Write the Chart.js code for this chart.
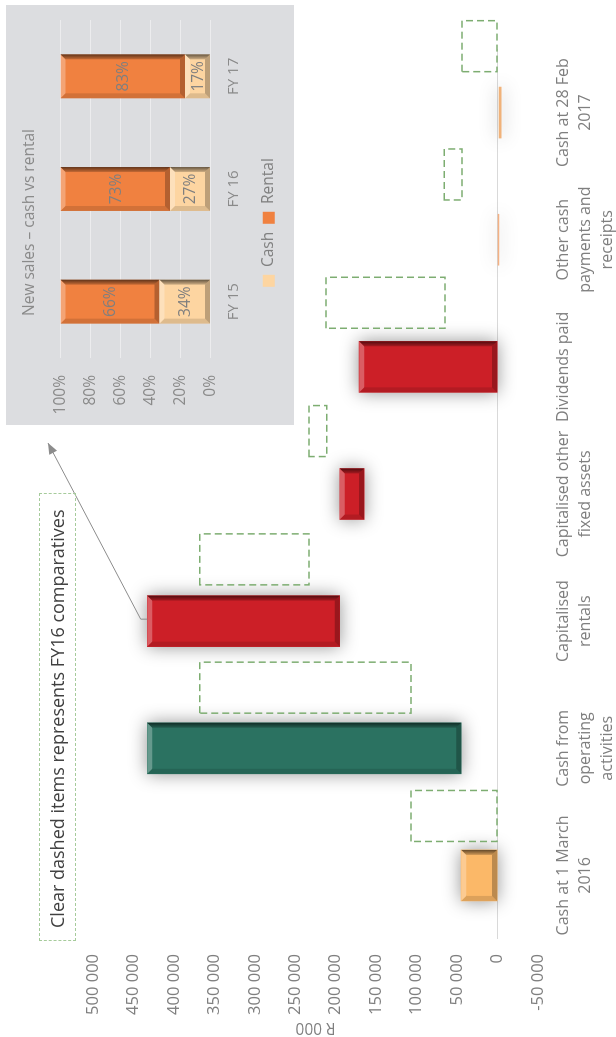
<!DOCTYPE html>
<html><head><meta charset="utf-8">
<script src="https://cdn.jsdelivr.net/npm/chart.js@4.4.1/dist/chart.umd.min.js"></script>
<style>
html,body{margin:0;padding:0;background:#fff;width:616px;height:1037px;overflow:hidden}
#rot{position:absolute;left:0;top:0;width:1037px;height:616px;transform-origin:0 0;transform:translate(0,1037px) rotate(-90deg);}
#main{position:absolute;left:0;top:0;}
#inset{position:absolute;left:612px;top:6px;background:#dcdde0;}
#note{position:absolute;left:96px;top:39px;width:448px;height:37px;box-sizing:border-box;border:1px dashed #a6cb9b;font:18px 'Open Sans',sans-serif;color:#404040;line-height:35px;padding-left:12px;white-space:nowrap}
</style></head><body>
<div id="rot">
  <canvas id="main" width="1037" height="616"></canvas>
  <canvas id="inset" width="420" height="288"></canvas>
  <div id="note">Clear dashed items represents FY16 comparatives</div>
</div>
<script>
// ---------- data ----------
const categories = [
  ['Cash at 1 March', '2016'],
  ['Cash from', 'operating', 'activities'],
  ['Capitalised', 'rentals'],
  ['Capitalised other', 'fixed assets'],
  ['Dividends paid'],
  ['Other cash', 'payments and', 'receipts'],
  ['Cash at 28 Feb', '2017']
];
const fy17Low  = [0, 45000, 195000, 165000, 0, -700, -2000];
const fy17High = [45000, 433000, 433000, 195000, 171000, -1800, -4500];
const fy17Colors = ['#fbb868', '#2b7261', '#cc1f27', '#cc1f27', '#cc1f27', '#f4b183', '#f0b27a'];
const fy16Low  = [0, 107000, 233000, 211000, 65000, 44000, 0];
const fy16High = [107000, 368000, 368000, 233000, 212000, 66000, 44000];
const valueMin = -50000, valueMax = 500000, valueStep = 50000;

const insetYears = ['FY 15', 'FY 16', 'FY 17'];
const cashShare = [34, 27, 17];
const rentalShare = [66, 73, 83];

// ---------- helpers ----------
Chart.defaults.font.family = "'Open Sans', sans-serif";
Chart.defaults.font.size = 15;
const fmt = v => (v < 0 ? '-' : '') + Math.abs(v).toString().replace(/\B(?=(\d{3})+(?!\d))/g, ' ');

function poly(ctx, pts, fill) {
  ctx.beginPath();
  ctx.moveTo(pts[0][0], pts[0][1]);
  for (let i = 1; i < pts.length; i++) ctx.lineTo(pts[i][0], pts[i][1]);
  ctx.closePath();
  ctx.fillStyle = fill;
  ctx.fill();
}

const bevelPlugin = {
  id: 'bevel',
  beforeDatasetDraw(chart, args) {
    const ds = chart.data.datasets[args.index];
    if (!ds.bevel) return;
    const ctx = chart.ctx;
    ctx.save();
    if (ds.shadow) { ctx.shadowColor = 'rgba(0,0,0,0.42)'; ctx.shadowBlur = 18; }
  },
  afterDatasetDraw(chart, args) {
    const ds = chart.data.datasets[args.index];
    if (!ds.bevel) return;
    const ctx = chart.ctx;
    ctx.restore();
    args.meta.data.forEach(el => {
      const {x, y, base, width} = el.getProps(['x', 'y', 'base', 'width'], true);
      const x0 = x - width / 2, x1 = x + width / 2;
      const y0 = Math.min(y, base), y1 = Math.max(y, base);
      const w = x1 - x0, h = y1 - y0;
      if (w < 8 || h < 8) return;
      const b = Math.min(5, w / 4, h / 4);
      ctx.save();
      poly(ctx, [[x0, y0], [x1, y0], [x1 - b, y0 + b], [x0 + b, y0 + b]], 'rgba(255,255,255,0.28)');
      poly(ctx, [[x0, y0], [x0 + b, y0 + b], [x0 + b, y1 - b], [x0, y1]], 'rgba(0,0,0,0.12)');
      const g = ctx.createLinearGradient(x1, 0, x1 - b, 0);
      g.addColorStop(0, 'rgba(0,0,0,0.6)');
      g.addColorStop(1, 'rgba(0,0,0,0.18)');
      poly(ctx, [[x1, y0], [x1, y1], [x1 - b, y1 - b], [x1 - b, y0 + b]], g);
      poly(ctx, [[x0, y1], [x1, y1], [x1 - b, y1 - b], [x0 + b, y1 - b]], 'rgba(0,0,0,0.25)');
      ctx.restore();
    });
  }
};

const dashedPlugin = {
  id: 'dashedBoxes',
  afterDatasetsDraw(chart) {
    const ctx = chart.ctx;
    chart.data.datasets.forEach((ds, i) => {
      if (!ds.dashedOutline) return;
      const meta = chart.getDatasetMeta(i);
      ctx.save();
      ctx.setLineDash([7, 4]);
      ctx.lineWidth = 1.5;
      ctx.strokeStyle = ds.dashedOutline;
      meta.data.forEach(el => {
        const {x, y, base, width} = el.getProps(['x', 'y', 'base', 'width'], true);
        const y0 = Math.min(y, base), y1 = Math.max(y, base);
        ctx.strokeRect(x - width / 2, y0, width, y1 - y0);
      });
      ctx.restore();
    });
  }
};

const arrowPlugin = {
  id: 'arrow',
  afterDraw(chart) {
    const el = chart.getDatasetMeta(0).data[2];
    if (!el) return;
    const {x, y, base} = el.getProps(['x', 'y', 'base'], true);
    const top = Math.min(y, base);
    const ctx = chart.ctx;
    const sx = x + 2, ex = 594, ey = 48;
    ctx.save();
    ctx.strokeStyle = '#8c8c8c';
    ctx.fillStyle = '#8c8c8c';
    ctx.lineWidth = 1;
    ctx.beginPath();
    ctx.moveTo(sx, top);
    ctx.lineTo(sx, top - 6.5);
    ctx.lineTo(ex, ey);
    ctx.stroke();
    const ang = Math.atan2(ey - (top - 6.5), ex - sx);
    const L = 11, Wd = 4.5;
    ctx.beginPath();
    ctx.moveTo(ex, ey);
    ctx.lineTo(ex - L * Math.cos(ang) + Wd * Math.sin(ang), ey - L * Math.sin(ang) - Wd * Math.cos(ang));
    ctx.lineTo(ex - L * Math.cos(ang) - Wd * Math.sin(ang), ey - L * Math.sin(ang) + Wd * Math.cos(ang));
    ctx.closePath();
    ctx.fill();
    ctx.restore();
  }
};

const valueLabelPlugin = {
  id: 'valueLabels',
  afterDatasetsDraw(chart) {
    const ctx = chart.ctx;
    chart.data.datasets.forEach((ds, i) => {
      if (!ds.showValues) return;
      const meta = chart.getDatasetMeta(i);
      ctx.save();
      ctx.font = "15.5px 'Open Sans', sans-serif";
      ctx.fillStyle = '#7f7f7f';
      ctx.textAlign = 'center';
      ctx.textBaseline = 'middle';
      meta.data.forEach((el, j) => {
        const {x, y, base} = el.getProps(['x', 'y', 'base'], true);
        ctx.fillText(ds.data[j] + '%', x, (y + base) / 2 + 1);
      });
      ctx.restore();
    });
  }
};

// ---------- main waterfall ----------
const x2Min = -0.959, x2Max = 5.978; // secondary axis for FY16 comparatives (offset)
new Chart(document.getElementById('main'), {
  type: 'bar',
  data: {
    labels: categories,
    datasets: [
      {
        label: 'FY17',
        data: fy17Low.map((lo, i) => [lo, fy17High[i]]),
        backgroundColor: fy17Colors,
        borderWidth: 0,
        barThickness: 51,
        grouped: false,
        xAxisID: 'x',
        bevel: true,
        shadow: true
      },
      {
        label: 'FY16',
        data: fy16Low.map((lo, i) => ({x: i, y: [lo, fy16High[i]]})),
        backgroundColor: 'rgba(0,0,0,0)',
        borderWidth: 0,
        barThickness: 51,
        grouped: false,
        xAxisID: 'x2',
        dashedOutline: '#7dad71'
      }
    ]
  },
  options: {
    responsive: false,
    animation: false,
    devicePixelRatio: 1,
    layout: {padding: {top: 93, right: 49, left: 0, bottom: 0}},
    plugins: {legend: {display: false}, tooltip: {enabled: false}, title: {display: false}},
    scales: {
      x: {
        type: 'category',
        grid: {display: false, drawTicks: false},
        border: {display: false},
        ticks: {color: '#7f7f7f', font: {size: 16, lineHeight: 1.36}, padding: 15, maxRotation: 0, autoSkip: false},
        afterFit(s) { s.height = 78; }
      },
      x2: {
        type: 'linear',
        display: false,
        offset: false,
        min: x2Min,
        max: x2Max,
        grid: {display: false, offset: false}
      },
      y: {
        min: valueMin,
        max: valueMax,
        ticks: {stepSize: valueStep, color: '#7f7f7f', font: {size: 16.5}, padding: 15, callback: v => fmt(v)},
        grid: {drawTicks: false, color: c => (c.tick && c.tick.value === 0 ? '#d9d9d9' : 'rgba(0,0,0,0)')},
        border: {display: false},
        title: {display: true, text: 'R 000', color: '#7f7f7f', font: {size: 15.5}, padding: {top: 0, bottom: 0}},
        afterFit(s) { s.width = 98; }
      }
    }
  },
  plugins: [bevelPlugin, dashedPlugin, arrowPlugin]
});

// ---------- inset: new sales ----------
new Chart(document.getElementById('inset'), {
  type: 'bar',
  data: {
    labels: insetYears,
    datasets: [
      {label: 'Cash', data: cashShare, backgroundColor: '#fdd5a1', borderWidth: 0, bevel: true, showValues: true},
      {label: 'Rental', data: rentalShare, backgroundColor: '#f08140', borderWidth: 0, bevel: true, showValues: true}
    ]
  },
  options: {
    responsive: false,
    animation: false,
    devicePixelRatio: 1,
    datasets: {bar: {barPercentage: 0.39, categoryPercentage: 1}},
    layout: {padding: {left: 0, right: 15, top: 0, bottom: 7.5}},
    plugins: {
      tooltip: {enabled: false},
      title: {display: true, text: 'New sales – cash vs rental', color: '#8a8a8a', font: {size: 15.5, weight: 'normal'}, padding: {top: 14, bottom: 22}},
      legend: {position: 'bottom', labels: {color: '#808080', font: {size: 15.5}, boxWidth: 12, boxHeight: 12, padding: 8}}
    },
    scales: {
      x: {
        stacked: true,
        grid: {display: false, drawTicks: false},
        border: {display: false},
        ticks: {color: '#8a8a8a', font: {size: 15}, padding: 14},
        afterFit(s) { s.height = 42.5; }
      },
      y: {
        stacked: true,
        min: 0,
        max: 100,
        ticks: {stepSize: 20, color: '#8a8a8a', font: {size: 15.5}, padding: 17, callback: v => v + '%'},
        grid: {drawTicks: false, color: 'rgba(255,255,255,0.45)'},
        border: {display: false},
        afterFit(s) { s.width = 67; }
      }
    }
  },
  plugins: [bevelPlugin, valueLabelPlugin]
});
</script>
</body></html>
